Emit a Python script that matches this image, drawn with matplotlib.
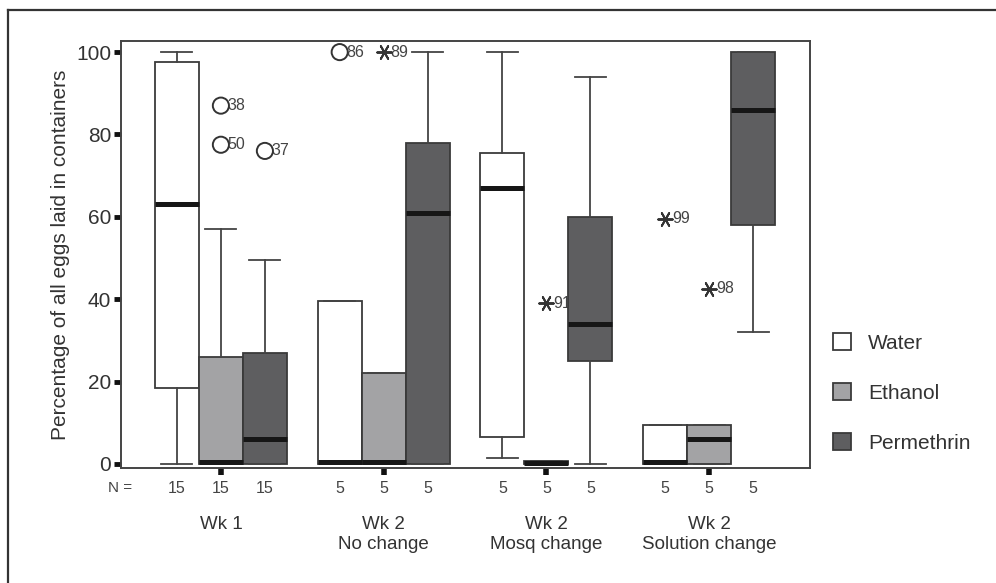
import numpy as np
import matplotlib
matplotlib.use("Agg")
from matplotlib import pyplot as plt
from matplotlib.patches import Patch
from matplotlib.lines import Line2D

plt.rcParams['font.family'] = ['Liberation Sans', 'DejaVu Sans']

# data
groups = ["Wk 1", "Wk 2\nNo change", "Wk 2\nMosq change", "Wk 2\nSolution change"]
solutions = ["Water", "Ethanol", "Permethrin"]
n_counts = [15, 15, 15, 5, 5, 5, 5, 5, 5, 5, 5, 5]
whislo = [0, 0, 0, 0, 0, 0, 1.5, 0, 0, 0, 0, 32]
q1 = [18.5, 0, 0, 0, 0, 0, 6.5, 0, 25, 0, 0, 58]
medians = [63, 0.5, 6, 0.5, 0.5, 61, 67, 0.3, 34, 0.5, 6, 86]
q3 = [97.5, 26, 27, 39.5, 22, 78, 75.5, 0.6, 60, 9.5, 9.5, 100]
whishi = [100, 57, 49.5, 39.5, 22, 100, 100, 0.6, 94, 9.5, 9.5, 100]

# outliers (box index, value, case label)
circ_box = [1, 1, 2, 3]
circ_val = [87, 77.5, 76, 100]
circ_lab = ["38", "50", "37", "86"]
star_box = [4, 7, 9, 10]
star_val = [100, 39, 59.5, 42.5]
star_lab = ["89", "91", "99", "98"]

colors = ["#ffffff", "#a3a3a5", "#5e5e60"]
edge = "#3a3a3a"

group_gap = 3.7
centers = np.arange(len(groups)) * group_gap
positions = [c + (j - 1) for c in centers for j in range(3)]

fig = plt.figure(figsize=(9.96, 5.83), dpi=100)
ax = fig.add_axes([0.1215, 0.1973, 0.6918, 0.7324])

stats = []
for i in range(len(positions)):
    stats.append(dict(med=medians[i], q1=q1[i], q3=q3[i],
                      whislo=whislo[i], whishi=whishi[i], fliers=[]))

bp = ax.bxp(stats, positions=positions, widths=1.0, patch_artist=True,
            showfliers=False,
            boxprops=dict(edgecolor=edge, linewidth=1.3),
            whiskerprops=dict(color="#444444", linewidth=1.3),
            capprops=dict(color="#444444", linewidth=1.3),
            medianprops=dict(color="#161616", linewidth=3.6, solid_capstyle='butt'),
            capwidths=0.7, zorder=3)
for i, box in enumerate(bp['boxes']):
    box.set_facecolor(colors[i % 3])

cx = [positions[b] for b in circ_box]
sx = [positions[b] for b in star_box]
ax.scatter(cx, circ_val, s=135, facecolors='none', edgecolors='#333333',
           linewidths=1.4, zorder=2, clip_on=False)
ax.scatter(sx, star_val, s=110, marker=(6, 2, 90), color='#333333',
           linewidths=1.4, zorder=2, clip_on=False)
for x, y, t in zip(cx + sx, circ_val + star_val, circ_lab + star_lab):
    ax.annotate(t, (x, y), xytext=(5, 0), textcoords='offset points',
                va='center', ha='left', fontsize=11.5, color='#444444', zorder=1)

ax.set_xlim(-2.27, 13.39)
ax.set_ylim(-1, 102.7)
ax.set_yticks([0, 20, 40, 60, 80, 100])
ax.tick_params(axis='y', direction='out', length=5, width=3.5, color='#111111',
               labelsize=15, labelcolor='#333333', pad=2)
ax.set_xticks(centers)
ax.set_xticklabels([])
ax.tick_params(axis='x', direction='out', length=5, width=4, color='#111111')
for sp in ax.spines.values():
    sp.set_color('#444444')
    sp.set_linewidth(1.4)

ax.set_ylabel("Percentage of all eggs laid in containers", fontsize=15, color='#333333')
ax.yaxis.set_label_coords(-0.074, 0.5)

# N counts and group names below the axis
trans = ax.get_xaxis_transform()
ax.text(-2.3, -0.047, "N =", transform=trans, ha='center', va='center',
        fontsize=11, color='#444444')
for p, n in zip(positions, n_counts):
    ax.text(p, -0.047, str(n), transform=trans, ha='center', va='center',
            fontsize=11.5, color='#444444')
for c, g in zip(centers, groups):
    ax.text(c, -0.112, g, transform=trans, ha='center', va='top',
            fontsize=13.5, color='#333333', linespacing=1.25)

handles = [Patch(facecolor=colors[k], edgecolor=edge, linewidth=1.3) for k in range(3)]
fig.legend(handles, solutions, loc='center left', bbox_to_anchor=(0.836, 0.326),
           frameon=False, fontsize=15, handlelength=0.9, handleheight=0.9,
           handletextpad=0.8, labelspacing=1.45, borderpad=0, borderaxespad=0,
           labelcolor='#333333')

# outer frame lines
fig.add_artist(Line2D([0.008, 1.0], [0.983, 0.983], color='#333333', linewidth=1.6))
fig.add_artist(Line2D([0.008, 0.008], [0.0, 0.983], color='#333333', linewidth=1.6))

fig.savefig("out.png", dpi=100)
